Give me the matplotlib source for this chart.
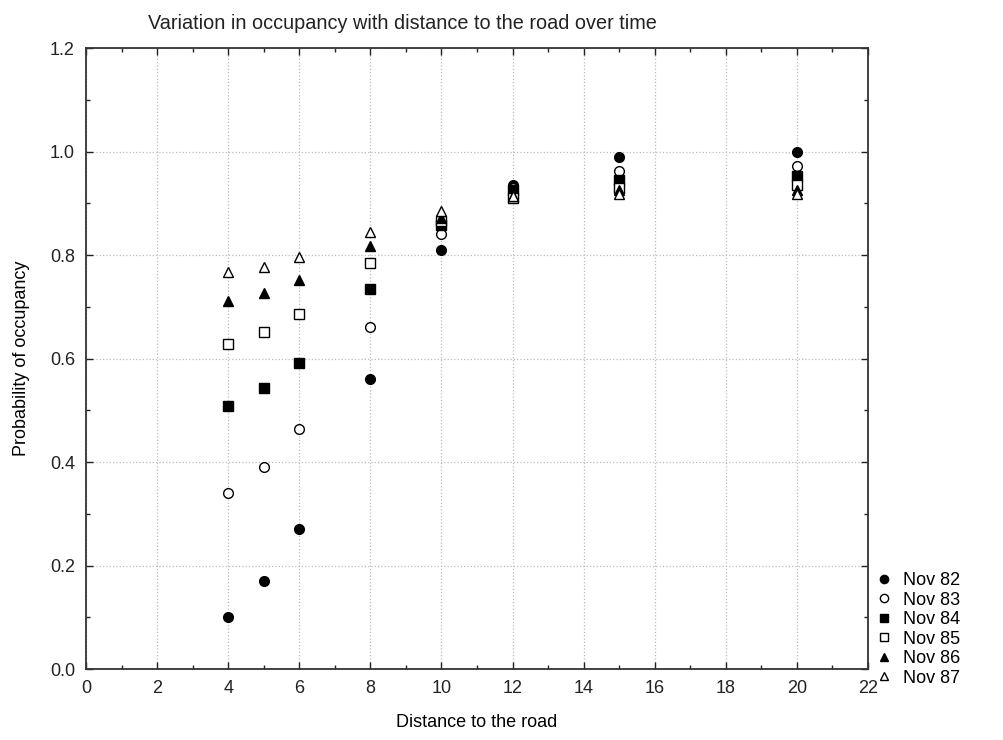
import numpy as np
import matplotlib.pyplot as plt
from matplotlib.ticker import MultipleLocator

plt.rcParams['font.family'] = ['Liberation Sans', 'DejaVu Sans']

distance = [4, 5, 6, 8, 10, 12, 15, 20]

nov82 = [0.10, 0.17, 0.27, 0.56, 0.81, 0.935, 0.99, 1.00]
nov83 = [0.34, 0.39, 0.463, 0.661, 0.84, 0.93, 0.963, 0.972]
nov84 = [0.509, 0.544, 0.592, 0.734, 0.858, 0.925, 0.945, 0.953]
nov85 = [0.628, 0.651, 0.686, 0.784, 0.866, 0.91, 0.93, 0.935]
nov86 = [0.711, 0.726, 0.752, 0.817, 0.872, 0.915, 0.925, 0.926]
nov87 = [0.767, 0.777, 0.796, 0.845, 0.885, 0.915, 0.918, 0.918]

labels = ['Nov 82', 'Nov 83', 'Nov 84', 'Nov 85', 'Nov 86', 'Nov 87']
series = [nov82, nov83, nov84, nov85, nov86, nov87]
markers = ['o', 'o', 's', 's', '^', '^']
filled = [True, False, True, False, True, False]

fig = plt.figure(figsize=(10.04, 7.40), dpi=100)
ax = fig.add_axes([0.0857, 0.0959, 0.7788, 0.8391])

for vals, lab, m, f in zip(series, labels, markers, filled):
    ax.plot(distance, vals, linestyle='none', marker=m, markersize=7,
            markerfacecolor='black' if f else 'white',
            markeredgecolor='black', markeredgewidth=1.0,
            label=lab, zorder=3)

ax.set_xlim(0, 22)
ax.set_ylim(0, 1.2)
ax.xaxis.set_major_locator(MultipleLocator(2))
ax.xaxis.set_minor_locator(MultipleLocator(1))
ax.yaxis.set_major_locator(MultipleLocator(0.2))
ax.yaxis.set_minor_locator(MultipleLocator(0.1))
ax.yaxis.set_major_formatter(plt.FormatStrFormatter('%.1f'))

ax.tick_params(which='both', direction='in', top=True, right=True,
               labelsize=13, colors='#222222', width=1)
ax.tick_params(which='major', length=5, pad=8)
ax.tick_params(which='minor', length=3)
ax.grid(True, which='major', linestyle=':', color='#bbbbbb', linewidth=0.9)
for sp in ax.spines.values():
    sp.set_linewidth(1.3)
    sp.set_color('#333333')

ax.set_xlabel('Distance to the road', fontsize=13, labelpad=12)
ax.set_ylabel('Probability of occupancy', fontsize=13, labelpad=14)
fig.text(0.401, 0.968, 'Variation in occupancy with distance to the road over time',
         ha='center', va='center', fontsize=14.3, color='#222222')

# legend sits outside the frame, bottom right
ax.legend(loc='lower left', bbox_to_anchor=(0.997, -0.04), frameon=False,
          fontsize=13, handletextpad=0.45, labelspacing=0.14,
          handlelength=1.2, markerscale=0.85, borderaxespad=0)

fig.savefig('out.png', dpi=100)
